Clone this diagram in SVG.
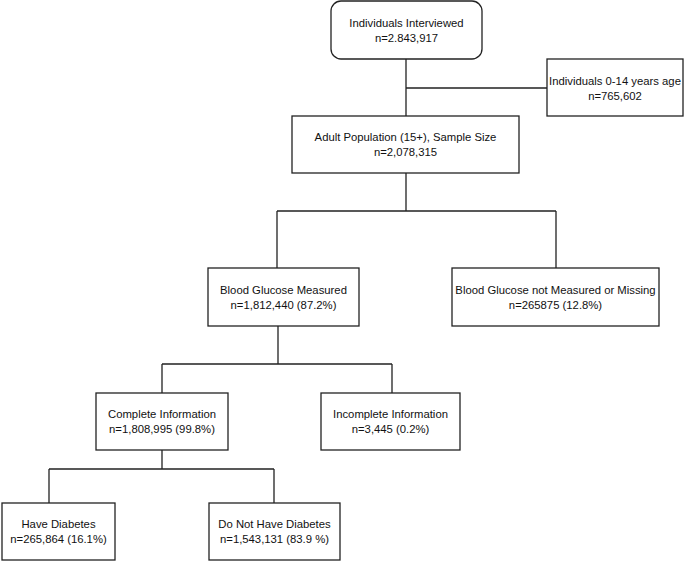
<svg xmlns="http://www.w3.org/2000/svg" width="685" height="562" viewBox="0 0 685 562">
<style>
.box{fill:#fff;stroke:#222;stroke-width:1.3}
.con{fill:none;stroke:#222;stroke-width:1.3}
text{font-family:"Liberation Sans",Arial,sans-serif;font-size:11.3px;fill:#111;text-anchor:middle}
</style>
<rect width="685" height="562" fill="#fff"/>
<g id="connectors">
<path class="con" d="M406,59V116M406,88H547"/>
<path class="con" d="M406,173V211M277,211H556M277,211V268M556,211V268"/>
<path class="con" d="M278,326V364M162,364H392M162,364V393M392,364V393"/>
<path class="con" d="M162,450V469M49,469H274M49,469V503M274,469V503"/>
</g>
<g id="interviewed">
<rect class="box" x="331" y="1" width="151" height="58" rx="10"/>
<text x="406.5" y="27">Individuals Interviewed</text>
<text x="406.5" y="42">n=2.843,917</text>
</g>
<g id="children">
<rect class="box" x="547" y="59" width="136" height="57"/>
<text x="615" y="85">Individuals 0-14 years age</text>
<text x="615" y="100">n=765,602</text>
</g>
<g id="adult">
<rect class="box" x="292" y="116" width="227" height="57"/>
<text x="405.5" y="141">Adult Population (15+), Sample Size</text>
<text x="405.5" y="156">n=2,078,315</text>
</g>
<g id="measured">
<rect class="box" x="208" y="268" width="151" height="58"/>
<text x="283.5" y="294">Blood Glucose Measured</text>
<text x="283.5" y="309">n=1,812,440 (87.2%)</text>
</g>
<g id="missing">
<rect class="box" x="452" y="268" width="207" height="58"/>
<text x="555.5" y="294">Blood Glucose not Measured or Missing</text>
<text x="555.5" y="309">n=265875 (12.8%)</text>
</g>
<g id="complete">
<rect class="box" x="96" y="393" width="132" height="57"/>
<text x="162" y="418">Complete Information</text>
<text x="162" y="433">n=1,808,995 (99.8%)</text>
</g>
<g id="incomplete">
<rect class="box" x="321" y="393" width="139" height="57"/>
<text x="390.5" y="418">Incomplete Information</text>
<text x="390.5" y="433">n=3,445 (0.2%)</text>
</g>
<g id="have">
<rect class="box" x="2" y="503" width="113" height="57"/>
<text x="58.5" y="528">Have Diabetes</text>
<text x="58.5" y="543">n=265,864 (16.1%)</text>
</g>
<g id="nothave">
<rect class="box" x="209" y="503" width="131" height="57"/>
<text x="274.5" y="528">Do Not Have Diabetes</text>
<text x="274.5" y="543">n=1,543,131 (83.9 %)</text>
</g>
</svg>
